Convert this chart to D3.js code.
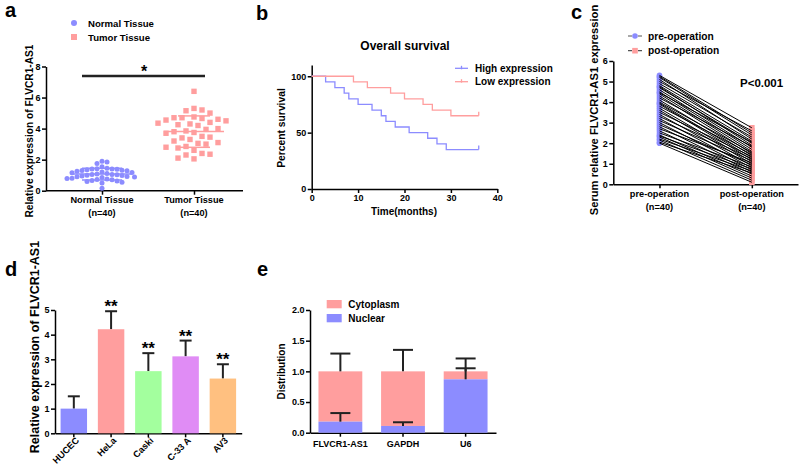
<!DOCTYPE html>
<html>
<head>
<meta charset="utf-8">
<script src="https://cdn.jsdelivr.net/npm/d3@7"></script>
<style>
body { margin: 0; background: #fff; }
text { font-family: Arial, "Liberation Sans", sans-serif; font-weight: bold; fill: #000; }
</style>
</head>
<body>
<svg id="fig" width="800" height="468"></svg>
<script>
// ---- data ----
// a: scatter of relative expression
var tissueGroups = ["Normal Tissue", "Tumor Tissue"];
var normalTissue = [1.9, 1.85, 1.75, 1.55, 1.45, 1.42, 1.4, 1.4, 1.38, 1.35, 1.32, 1.3, 1.28, 1.25, 1.2, 1.18, 1.15, 1.1, 1.08, 1.05,
  1.05, 1.02, 1.0, 0.98, 0.95, 0.92, 0.9, 0.88, 0.85, 0.8, 0.78, 0.75, 0.72, 0.7, 0.65, 0.62, 0.6, 0.55, 0.5, 0.15];
var tumorTissue = [6.4, 5.3, 5.2, 5.15, 5.0, 4.75, 4.7, 4.7, 4.65, 4.6, 4.55, 4.5, 4.4, 4.35, 4.3, 4.25, 4.2, 4.0, 3.95, 3.85,
  3.8, 3.75, 3.7, 3.5, 3.45, 3.4, 3.3, 3.2, 3.1, 3.05, 3.0, 2.85, 2.8, 2.75, 2.6, 2.4, 2.35, 2.3, 2.1, 2.05];

// b: Kaplan-Meier steps
var highTime = [0, 3, 5, 7, 8, 10, 13, 15, 16, 18, 21, 25, 27, 29, 36];
var highSurv = [100, 95, 90, 85, 80, 75, 70, 65, 60, 55, 50, 45, 40, 35, 35];
var lowTime = [0, 9, 12, 17, 20, 24, 26, 30, 36];
var lowSurv = [100, 95, 90, 85, 80, 75, 70, 65, 65];

// c: paired serum values
var opGroups = ["pre-operation", "post-operation"];
var preOp = [5.3, 5.25, 5.2, 5.1, 5.0, 4.9, 4.8, 4.75, 4.7, 4.6, 4.5, 4.45, 4.4, 4.3, 4.2, 4.1, 4.0, 3.95, 3.9, 3.8,
  3.7, 3.6, 3.5, 3.4, 3.3, 3.2, 3.1, 3.0, 2.9, 2.8, 2.7, 2.6, 2.5, 2.4, 2.35, 2.3, 2.2, 2.15, 2.05, 2.0];
var postOp = [2.75, 2.5, 2.4, 2.2, 2.6, 2.3, 2.1, 1.9, 2.0, 1.8, 1.7, 2.05, 1.6, 1.5, 1.85, 1.4, 1.55, 1.3, 1.2, 1.45,
  1.1, 1.0, 1.35, 0.9, 1.25, 0.8, 1.15, 0.7, 0.95, 0.6, 1.05, 0.5, 0.85, 0.4, 0.75, 0.3, 0.65, 0.2, 0.55, 0.1];

// d: cell lines
var cellLines = ["HUCEC", "HeLa", "Caski", "C-33 A", "AV3"];
var cellMean = [1.0, 4.22, 2.52, 3.12, 2.22];
var cellErr = [0.5, 0.73, 0.73, 0.64, 0.58];
var cellStars = ["", "**", "**", "**", "**"];
var cellColors = ["#8c8cff", "#ff9e9e", "#a3ff9e", "#e08cf5", "#ffc080"];

// e: subcellular distribution
var genes = ["FLVCR1-AS1", "GAPDH", "U6"];
var nuclear = [0.18, 0.11, 0.87];
var nuclearErr = [0.14, 0.06, 0.18];
var cytoplasm = [0.82, 0.89, 0.13];
var cytoErr = [0.29, 0.35, 0.21];

var blue = "#8c8cff", pink = "#ff9e9e";

var svg = d3.select("#fig");

function styleAxis(g, size) {
  g.selectAll("path, line").attr("stroke", "#000").attr("stroke-width", 1.5);
  g.selectAll("text").attr("font-size", size || 9);
}

function panelLabel(t, x, y) {
  svg.append("text").attr("x", x).attr("y", y).attr("font-size", 20).text(t);
}

function yTitle(t, x, y, size) {
  svg.append("text")
    .attr("transform", `translate(${x},${y}) rotate(-90)`)
    .attr("text-anchor", "middle")
    .attr("font-size", size)
    .text(t);
}

// simple beeswarm, returns [value, xOffset]
function swarm(vals, y, d) {
  var placed = [];
  return vals.slice().sort((a, b) => b - a).map(function(v) {
    var py = y(v);
    for (var i = 0; i < 200; i++) {
      var off = (i % 2 ? 1 : -1) * Math.ceil(i / 2) * d / 2;
      var hit = placed.some(p => Math.hypot(p[1] - off, p[2] - py) < d);
      if (!hit) { placed.push([v, off, py]); return [v, off]; }
    }
  });
}

// ================= a =================
panelLabel("a", 5, 17);
var ax = d3.scalePoint().domain(tissueGroups).range([56, 240]).padding(0.5);
var ay = d3.scaleLinear().domain([0, 8]).range([190.7, 66.5]);

svg.append("g").attr("transform", "translate(46,0)")
  .call(d3.axisLeft(ay).tickValues([0, 2, 4, 6, 8]).tickSize(4).tickPadding(1.5).tickSizeOuter(0))
  .call(styleAxis);
var axB = svg.append("g").attr("transform", "translate(0,190.7)")
  .call(d3.axisBottom(ax).tickSize(4).tickSizeOuter(0).tickFormat(""))
  .call(styleAxis);
axB.select(".domain").attr("d", "M46,0H243");
tissueGroups.forEach(function(t) {
  var lab = svg.append("text").attr("text-anchor", "middle").attr("font-size", 9.2)
    .attr("x", ax(t)).attr("y", 203);
  lab.append("tspan").attr("x", ax(t)).text(t);
  lab.append("tspan").attr("x", ax(t)).attr("dy", 12.5).text("(n=40)");
});
yTitle("Relative expression of FLVCR1-AS1", 33, 131, 10.2);

var aSets = [[normalTissue, blue, "circle", 5], [tumorTissue, pink, "rect", 8]];
aSets.forEach(function(s, i) {
  var vals = s[0], col = s[1], cx = ax(tissueGroups[i]);
  var pts = swarm(vals, ay, s[3]);
  var g = svg.append("g");
  if (s[2] === "circle") {
    g.selectAll("circle").data(pts).enter().append("circle")
      .attr("cx", p => cx + p[1]).attr("cy", p => ay(p[0])).attr("r", 2.5).attr("fill", col);
  } else {
    g.selectAll("rect").data(pts).enter().append("rect")
      .attr("x", p => cx + p[1] - 2.7).attr("y", p => ay(p[0]) - 2.7)
      .attr("width", 5.4).attr("height", 5.4).attr("fill", col);
  }
  var m = d3.mean(vals), sd = d3.deviation(vals);
  var mw = 30, sw = i === 0 ? 20 : 16;
  [[m, mw], [m + sd, sw], [m - sd, sw]].forEach(function(l) {
    g.append("line").attr("x1", cx - l[1]).attr("x2", cx + l[1])
      .attr("y1", ay(l[0])).attr("y2", ay(l[0]))
      .attr("stroke", col).attr("stroke-width", 1.5);
  });
});
svg.append("line").attr("x1", 82).attr("x2", 205).attr("y1", 76).attr("y2", 76)
  .attr("stroke", "#222").attr("stroke-width", 2.5);
svg.append("text").attr("x", 144).attr("y", 77).attr("text-anchor", "middle").attr("font-size", 16).text("*");
// legend a
svg.append("circle").attr("cx", 74).attr("cy", 23).attr("r", 3).attr("fill", blue);
svg.append("rect").attr("x", 71).attr("y", 34).attr("width", 6).attr("height", 6).attr("fill", pink);
svg.append("text").attr("x", 88).attr("y", 27).attr("font-size", 9.6).text("Normal Tissue");
svg.append("text").attr("x", 88).attr("y", 41).attr("font-size", 9.6).text("Tumor Tissue");

// ================= b =================
panelLabel("b", 256, 20);
var bx = d3.scaleLinear().domain([0, 40]).range([311.7, 497.3]);
var by = d3.scaleLinear().domain([0, 110]).range([189, 65]);
svg.append("g").attr("transform", "translate(311.7,0)")
  .call(d3.axisLeft(by).tickValues([0, 50, 100]).tickSize(4).tickPadding(1.5).tickSizeOuter(0))
  .call(styleAxis);
svg.append("g").attr("transform", "translate(0,189)")
  .call(d3.axisBottom(bx).ticks(4).tickSize(4).tickPadding(2).tickSizeOuter(0))
  .call(styleAxis);
svg.append("text").attr("x", 405).attr("y", 50).attr("text-anchor", "middle").attr("font-size", 12).text("Overall survival");
svg.append("text").attr("x", 404).attr("y", 215).attr("text-anchor", "middle").attr("font-size", 10).text("Time(months)");
yTitle("Percent survival", 285, 128, 10.3);

var step = d3.line().x(d => bx(d[0])).y(d => by(d[1])).curve(d3.curveStepAfter);
[[highTime, highSurv, blue], [lowTime, lowSurv, pink]].forEach(function(s) {
  var pts = d3.zip(s[0], s[1]);
  svg.append("path").attr("d", step(pts)).attr("fill", "none").attr("stroke", s[2]).attr("stroke-width", 1.3);
  var last = pts[pts.length - 1];
  svg.append("line").attr("x1", bx(last[0])).attr("x2", bx(last[0]))
    .attr("y1", by(last[1])).attr("y2", by(last[1]) - 4).attr("stroke", s[2]).attr("stroke-width", 1.3);
});
[["High expression", blue, 68.3], ["Low expression", pink, 81.7]].forEach(function(l) {
  svg.append("line").attr("x1", 455).attr("x2", 468).attr("y1", l[2]).attr("y2", l[2]).attr("stroke", l[1]).attr("stroke-width", 1.3);
  svg.append("line").attr("x1", 461.5).attr("x2", 461.5).attr("y1", l[2] - 2.5).attr("y2", l[2] + 1).attr("stroke", l[1]).attr("stroke-width", 1.3);
  svg.append("text").attr("x", 475).attr("y", l[2] + 3.6).attr("font-size", 10).text(l[0]);
});

// ================= c =================
panelLabel("c", 571, 18.5);
var cx = d3.scalePoint().domain(opGroups).range([613.3, 798]).padding(0.5);
var cy = d3.scaleLinear().domain([0, 6]).range([184.3, 61]);
svg.append("g").attr("transform", "translate(613.3,0)")
  .call(d3.axisLeft(cy).ticks(6).tickSize(4).tickPadding(1.5).tickSizeOuter(0))
  .call(styleAxis);
svg.append("g").attr("transform", "translate(0,184.3)")
  .call(d3.axisBottom(cx).tickSize(4).tickSizeOuter(0).tickFormat(""))
  .call(styleAxis);
opGroups.forEach(function(t) {
  var lab = svg.append("text").attr("text-anchor", "middle").attr("font-size", 9.2).attr("y", 196.7);
  lab.append("tspan").attr("x", cx(t)).text(t);
  lab.append("tspan").attr("x", cx(t)).attr("dy", 13).text("(n=40)");
});
yTitle("Serum relative FLVCR1-AS1 expression", 598, 110, 11.2);

svg.append("g").selectAll("circle").data(preOp).enter().append("circle")
  .attr("cx", cx("pre-operation")).attr("cy", d => cy(d)).attr("r", 2.8).attr("fill", blue);
svg.append("g").selectAll("rect").data(postOp).enter().append("rect")
  .attr("x", cx("post-operation") - 2.8).attr("y", d => cy(d) - 2.8)
  .attr("width", 5.6).attr("height", 5.6).attr("fill", pink);
svg.append("g").selectAll("line").data(d3.zip(preOp, postOp)).enter().append("line")
  .attr("x1", cx("pre-operation")).attr("y1", d => cy(d[0]))
  .attr("x2", cx("post-operation")).attr("y2", d => cy(d[1]))
  .attr("stroke", "#000").attr("stroke-width", 1);
svg.append("text").attr("x", 740).attr("y", 87).attr("font-size", 11.5).text("P<0.001");
[["pre-operation", blue, 36, "circle"], ["post-operation", pink, 50.7, "rect"]].forEach(function(l) {
  svg.append("line").attr("x1", 628).attr("x2", 642).attr("y1", l[2]).attr("y2", l[2])
    .attr("stroke", "#555").attr("stroke-width", 1.2).attr("stroke-dasharray", "4,6");
  if (l[3] === "circle") svg.append("circle").attr("cx", 635).attr("cy", l[2]).attr("r", 2.8).attr("fill", l[1]);
  else svg.append("rect").attr("x", 632.2).attr("y", l[2] - 2.8).attr("width", 5.6).attr("height", 5.6).attr("fill", l[1]);
  svg.append("text").attr("x", 648).attr("y", l[2] + 3.6).attr("font-size", 10.2).text(l[0]);
});

// ================= d =================
panelLabel("d", 5, 275.5);
var dx = d3.scaleBand().domain(cellLines).range([55, 241.7]).paddingInner(0.29).paddingOuter(0.15);
var dy = d3.scaleLinear().domain([0, 5]).range([433.3, 310]);
svg.append("g").attr("transform", "translate(55,0)")
  .call(d3.axisLeft(dy).ticks(5).tickSize(4).tickPadding(1.5).tickSizeOuter(0))
  .call(styleAxis);
var dxa = svg.append("g").attr("transform", "translate(0,433.3)")
  .call(d3.axisBottom(dx).tickSize(4).tickSizeOuter(0))
  .call(styleAxis, 9.2);
dxa.selectAll("text").attr("text-anchor", "end")
  .attr("transform", "rotate(-45)").attr("dx", 0).attr("dy", 0).attr("y", 9.6).attr("x", -1.4);
yTitle("Relative expression of FLVCR1-AS1", 38.5, 347, 12.5);

var dg = svg.append("g");
cellLines.forEach(function(c, i) {
  var x0 = dx(c), xc = x0 + dx.bandwidth() / 2;
  var top = dy(cellMean[i] + cellErr[i]);
  dg.append("line").attr("x1", xc).attr("x2", xc).attr("y1", dy(cellMean[i])).attr("y2", top)
    .attr("stroke", "#222").attr("stroke-width", 2);
  dg.append("line").attr("x1", xc - 6).attr("x2", xc + 6).attr("y1", top).attr("y2", top)
    .attr("stroke", "#222").attr("stroke-width", 2);
  dg.append("rect").attr("x", x0).attr("y", dy(cellMean[i])).attr("width", dx.bandwidth())
    .attr("height", dy(0) - dy(cellMean[i])).attr("fill", cellColors[i]);
  if (cellStars[i]) dg.append("text").attr("x", xc).attr("y", top + 1).attr("text-anchor", "middle")
    .attr("font-size", 17).text(cellStars[i]);
});

// ================= e =================
panelLabel("e", 257, 275.5);
var ex = d3.scaleBand().domain(genes).range([310, 496]).paddingInner(0.3).paddingOuter(0.135);
var ey = d3.scaleLinear().domain([0, 2]).range([432.7, 310]);
svg.append("g").attr("transform", "translate(310,0)")
  .call(d3.axisLeft(ey).tickValues([0, 0.5, 1, 1.5, 2]).tickFormat(d3.format(".1f")).tickSize(4).tickPadding(1.5).tickSizeOuter(0))
  .call(styleAxis);
svg.append("g").attr("transform", "translate(0,432.7)")
  .call(d3.axisBottom(ex).tickSize(4).tickSizeOuter(0))
  .call(styleAxis)
  .selectAll("text").attr("y", 8);
yTitle("Distribution", 285, 371.5, 10);

var eg = svg.append("g");
genes.forEach(function(gn, i) {
  var x0 = ex(gn), xc = x0 + ex.bandwidth() / 2, tot = nuclear[i] + cytoplasm[i];
  eg.append("rect").attr("x", x0).attr("y", ey(tot)).attr("width", ex.bandwidth())
    .attr("height", ey(nuclear[i]) - ey(tot)).attr("fill", pink);
  eg.append("rect").attr("x", x0).attr("y", ey(nuclear[i])).attr("width", ex.bandwidth())
    .attr("height", ey(0) - ey(nuclear[i])).attr("fill", blue);
  [[nuclear[i], nuclearErr[i]], [tot, cytoErr[i]]].forEach(function(e) {
    var top = ey(e[0] + e[1]);
    eg.append("line").attr("x1", xc).attr("x2", xc).attr("y1", ey(e[0])).attr("y2", top)
      .attr("stroke", "#222").attr("stroke-width", 2);
    eg.append("line").attr("x1", xc - 10).attr("x2", xc + 10).attr("y1", top).attr("y2", top)
      .attr("stroke", "#222").attr("stroke-width", 2);
  });
});
[["Cytoplasm", pink, 300], ["Nuclear", blue, 314]].forEach(function(l) {
  svg.append("rect").attr("x", 326.7).attr("y", l[2]).attr("width", 15).attr("height", 8.3).attr("fill", l[1]);
  svg.append("text").attr("x", 348.3).attr("y", l[2] + 8).attr("font-size", 10).text(l[0]);
});
</script>
</body>
</html>
